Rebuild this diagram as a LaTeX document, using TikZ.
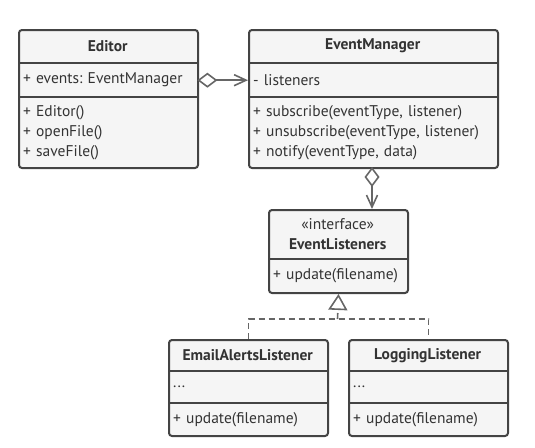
\documentclass[tikz,border=0pt]{standalone}
\usepackage{fontspec}
\setmainfont{PT Sans}
\usetikzlibrary{arrows.meta}
\definecolor{boxfill}{HTML}{F5F5F5}
\definecolor{boxline}{HTML}{444444}
\definecolor{connline}{HTML}{666666}
\definecolor{txt}{HTML}{333333}
\frenchspacing
\begin{document}
\begin{tikzpicture}[x=1pt,y=-1pt,
  outer/.style={draw=boxline, fill=boxfill, line width=2pt, rounded corners=3pt, inner sep=0pt, anchor=north west},
  comp/.style={rectangle, inner xsep=5pt, inner ysep=0pt, anchor=north west, align=left, text=txt, font=\fontsize{15.5}{20}\selectfont},
  hdr/.style={comp, align=center, font=\fontsize{15.5}{20}\selectfont\bfseries},
  divider/.style={draw=boxline, line width=2pt},
  conn/.style={draw=connline, line width=1.6pt},
  agg/.style={conn, {Diamond[open, length=20pt, width=15pt]}-{Straight Barb[length=12pt, width=11pt]}},
  real/.style={conn, dash pattern=on 6pt off 4pt}
]
\useasboundingbox (0,0) rectangle (535,447);

% Editor
\node[outer, minimum width=179pt, minimum height=138pt] (editor) at (18,29) {};
\node[hdr, minimum width=179pt, minimum height=34pt, text width=169pt] (edhdr) at (18,29) {Editor};
\node[comp, minimum width=179pt, minimum height=34pt, text width=169pt] (edattr) at (18,63) {+ events: EventManager};
\node[comp, minimum width=179pt, minimum height=70pt, text width=169pt] (edops) at (18,97) {+ Editor()\\+ openFile()\\+ saveFile()};
\draw[divider] (edattr.north west) -- (edattr.north east);
\draw[divider] (edops.north west) -- (edops.north east);

% EventManager
\node[outer, minimum width=249pt, minimum height=138pt] (em) at (248,29) {};
\node[hdr, minimum width=249pt, minimum height=34pt, text width=239pt] (emhdr) at (248,29) {EventManager};
\node[comp, minimum width=249pt, minimum height=34pt, text width=239pt] (emattr) at (248,63) {- listeners};
\node[comp, minimum width=249pt, minimum height=70pt, text width=239pt] (emops) at (248,97) {+ subscribe(eventType, listener)\\+ unsubscribe(eventType, listener)\\+ notify(eventType, data)};
\draw[divider] (emattr.north west) -- (emattr.north east);
\draw[divider] (emops.north west) -- (emops.north east);

% EventListeners
\node[outer, minimum width=139pt, minimum height=83pt] (el) at (268,209) {};
\node[comp, align=center, minimum width=139pt, minimum height=50pt, text width=129pt] (elhdr) at (268,209) {«interface»\\\textbf{EventListeners}};
\node[comp, minimum width=139pt, minimum height=33pt, text width=129pt] (elops) at (268,259) {+ update(filename)};
\draw[divider] (elops.north west) -- (elops.north east);

% EmailAlertsListener
\node[outer, minimum width=159pt, minimum height=96pt] (ea) at (168,339) {};
\node[hdr, minimum width=159pt, minimum height=32pt, text width=149pt] (eahdr) at (168,339) {EmailAlertsListener};
\node[comp, minimum width=159pt, minimum height=32pt, text width=149pt] (eaattr) at (168,371) {...};
\node[comp, minimum width=159pt, minimum height=32pt, text width=149pt] (eaops) at (168,403) {+ update(filename)};
\draw[divider] (eaattr.north west) -- (eaattr.north east);
\draw[divider] (eaops.north west) -- (eaops.north east);

% LoggingListener
\node[outer, minimum width=159pt, minimum height=96pt] (lg) at (348,339) {};
\node[hdr, minimum width=159pt, minimum height=32pt, text width=149pt] (lghdr) at (348,339) {LoggingListener};
\node[comp, minimum width=159pt, minimum height=32pt, text width=149pt] (lgattr) at (348,371) {...};
\node[comp, minimum width=159pt, minimum height=32pt, text width=149pt] (lgops) at (348,403) {+ update(filename)};
\draw[divider] (lgattr.north west) -- (lgattr.north east);
\draw[divider] (lgops.north west) -- (lgops.north east);

% Connectors
\draw[agg] (edattr.east) -- (emattr.west);
\coordinate (emdown) at (372,167);
\draw[agg] (emdown) -- (emdown |- el.north);
\coordinate (junc) at (337.5,319);
\draw[real] (ea.north) -- (ea.north |- junc) -- (lg.north |- junc) -- (lg.north);
\draw[real, -{Triangle[open, length=16pt, width=19pt]}] (junc) -- (el.south);
\end{tikzpicture}
\end{document}
